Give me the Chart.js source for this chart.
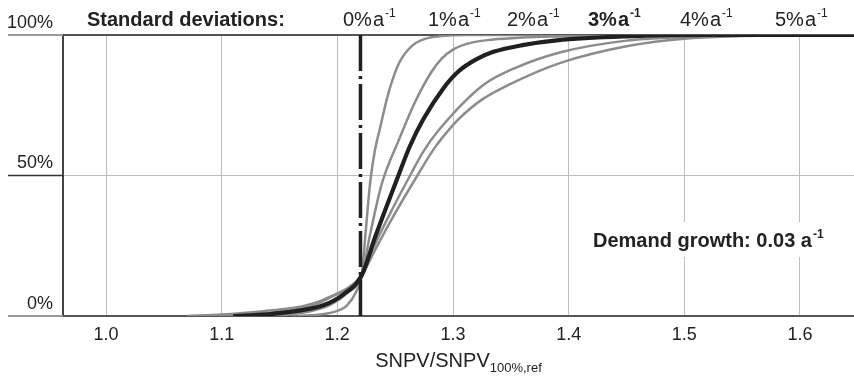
<!DOCTYPE html>
<html>
<head>
<meta charset="utf-8">
<script src="https://cdn.jsdelivr.net/npm/chart.js@4.4.1/dist/chart.umd.min.js"></script>
<style>
html,body{margin:0;padding:0;background:#fff;}
#wrap{width:854px;height:377px;position:relative;}
</style>
</head>
<body>
<div id="wrap"><canvas id="c" width="854" height="377"></canvas></div>
<script>
// ---- data ----
const xTicks = [1.0, 1.1, 1.2, 1.3, 1.4, 1.5, 1.6];
const yTicks = [0, 50, 100];
const sdLabels = ['0%', '1%', '2%', '3%', '4%', '5%'];
const highlighted = '3%';
const deterministicX = 1.22; // 0% a^-1 (step)
const sd1 = [[1.16,0],[1.185,0.5],[1.20,1.8],[1.208,3.6],[1.2167,9],[1.2211,14.5],[1.2245,30],[1.2285,48],[1.2325,59],[1.237,67],[1.2433,78],[1.2485,85],[1.254,90.5],[1.265,96.3],[1.277,98.8],[1.29,99.6],[1.31,100],[1.6467,100]];
const sd2 = [[1.13,0],[1.16,0.6],[1.18,2],[1.195,4.2],[1.208,8],[1.2211,14.5],[1.2283,29],[1.2384,47],[1.253,62.5],[1.267,76],[1.2816,87],[1.29,91.5],[1.30,94.8],[1.315,97.2],[1.3346,98.4],[1.36,99.1],[1.39,99.5],[1.45,100],[1.6467,100]];
const sd3 = [[1.11,0],[1.14,0.6],[1.165,1.8],[1.188,3.8],[1.205,7.6],[1.2211,14.5],[1.2326,28],[1.2514,48.5],[1.2628,60.5],[1.2743,70],[1.2916,81],[1.3046,87],[1.32,91.3],[1.3349,94],[1.36,96.4],[1.3897,98.1],[1.45,99.5],[1.52,100],[1.6467,100]];
const sd4 = [[1.09,0],[1.12,0.5],[1.15,1.5],[1.175,3.3],[1.195,6.8],[1.2211,14.5],[1.232,25],[1.245,36],[1.2629,50],[1.2743,58.5],[1.2874,66],[1.3262,82.2],[1.3551,88.5],[1.3923,93.8],[1.45,98],[1.50,99.3],[1.56,100],[1.6467,100]];
const sd5 = [[1.07,0],[1.10,0.5],[1.13,1.5],[1.15,2.3],[1.171,3.6],[1.19,6.2],[1.2211,14.5],[1.232,23],[1.245,33],[1.2692,50],[1.2844,60],[1.299,67.5],[1.3046,70],[1.325,77],[1.3493,82.5],[1.3923,90],[1.45,96],[1.50,98.7],[1.55,99.6],[1.60,100],[1.6467,100]];
const xTitleMain = 'SNPV/SNPV';
const xTitleSub = '100%,ref';
const noteMain = 'Demand growth: 0.03 a';
const unitMain = 'a';
const unitSup = '-1';
const headerTitle = 'Standard deviations:';

const GRAY = '#8c8c8c';
const DARK = '#231f20';
const FONT = '"Liberation Sans", Arial, Helvetica, sans-serif';

const toPts = arr => arr.map(p => ({x: p[0], y: p[1]}));
function grayDs(arr){
  return {data: toPts(arr), borderColor: GRAY, borderWidth: 2.5, pointRadius: 0,
          cubicInterpolationMode: 'monotone', fill: false, order: 3};
}

const overlay = {
  id: 'overlay',
  afterDraw(chart){
    const ctx = chart.ctx;
    const ca = chart.chartArea;
    const ys = chart.scales.y;
    ctx.save();
    // left extensions of horizontal lines
    yTicks.forEach(v => {
      const y = ys.getPixelForValue(v);
      ctx.beginPath();
      ctx.lineWidth = v === 50 ? 1.3 : 2;
      ctx.strokeStyle = v === 50 ? '#333' : '#999';
      ctx.moveTo(8, y); ctx.lineTo(ca.left, y); ctx.stroke();
    });
    // header
    ctx.fillStyle = '#222';
    ctx.textBaseline = 'alphabetic';
    ctx.font = 'bold 20px ' + FONT;
    ctx.textAlign = 'left';
    ctx.fillText(headerTitle, 87, 26);
    const starts = [343, 428, 507, 588, 680, 775];
    sdLabels.forEach((lab, i) => {
      const bold = lab === highlighted ? 'bold ' : '';
      let x = starts[i];
      ctx.font = bold + '20px ' + FONT;
      ctx.fillText(lab, x, 26);
      x += ctx.measureText(lab).width + 1;
      ctx.fillText(unitMain, x, 26);
      x += ctx.measureText(unitMain).width + 1;
      ctx.font = bold + '12px ' + FONT;
      ctx.fillText(unitSup, x, 17);
    });
    // note with white background
    ctx.fillStyle = '#fff';
    ctx.fillRect(586, 222, 254, 35);
    ctx.fillStyle = '#222';
    ctx.font = 'bold 20px ' + FONT;
    ctx.fillText(noteMain, 593, 247);
    let nx = 593 + ctx.measureText(noteMain).width + 1;
    ctx.font = 'bold 12px ' + FONT;
    ctx.fillText(unitSup, nx, 238);
    // x title
    ctx.font = '20px ' + FONT;
    const w1 = ctx.measureText(xTitleMain).width;
    ctx.font = '13px ' + FONT;
    const w2 = ctx.measureText(xTitleSub).width;
    const cx = (ca.left + ca.right) / 2;
    let tx = cx - (w1 + w2) / 2;
    ctx.font = '20px ' + FONT;
    ctx.fillText(xTitleMain, tx, 367);
    ctx.font = '13px ' + FONT;
    ctx.fillText(xTitleSub, tx + w1, 372);
    ctx.restore();
  }
};

new Chart(document.getElementById('c'), {
  type: 'line',
  data: {
    datasets: [
      grayDs(sd1), grayDs(sd2), grayDs(sd4), grayDs(sd5),
      {data: toPts(sd3), borderColor: DARK, borderWidth: 4.2, pointRadius: 0,
       cubicInterpolationMode: 'monotone', fill: false, order: 2},
      {data: [{x: deterministicX, y: 100}, {x: deterministicX, y: 0}], borderColor: DARK,
       borderWidth: 3.5, borderDash: [36, 5, 3, 5], pointRadius: 0, fill: false, order: 1}
    ]
  },
  options: {
    responsive: false,
    animation: false,
    layout: {padding: {top: 35, left: 0, right: 0, bottom: 0}},
    plugins: {legend: {display: false}, tooltip: {enabled: false}},
    scales: {
      x: {
        type: 'linear', min: 0.9628, max: 1.6467,
        afterBuildTicks: s => { s.ticks = xTicks.map(v => ({value: v})); },
        afterFit: s => { s.height = 61; },
        ticks: {callback: v => Number(v).toFixed(1), color: '#222', font: {family: FONT, size: 18}, padding: 8, maxRotation: 0, autoSkip: false},
        grid: {color: '#bdbdbd', lineWidth: 1, drawTicks: false},
        border: {display: false}
      },
      y: {
        type: 'linear', min: 0, max: 100,
        afterBuildTicks: s => { s.ticks = yTicks.map(v => ({value: v})); },
        afterFit: s => { s.width = 63; },
        ticks: {callback: v => v + '%', color: '#222', font: {family: FONT, size: 18}, padding: 10, labelOffset: -12},
        grid: {color: c => (c.tick && c.tick.value === 50) ? '#bdbdbd' : '#555',
               lineWidth: c => (c.tick && c.tick.value === 50) ? 1 : 2, drawTicks: false},
        border: {display: true, color: '#444', width: 2}
      }
    }
  },
  plugins: [overlay]
});
</script>
</body>
</html>
